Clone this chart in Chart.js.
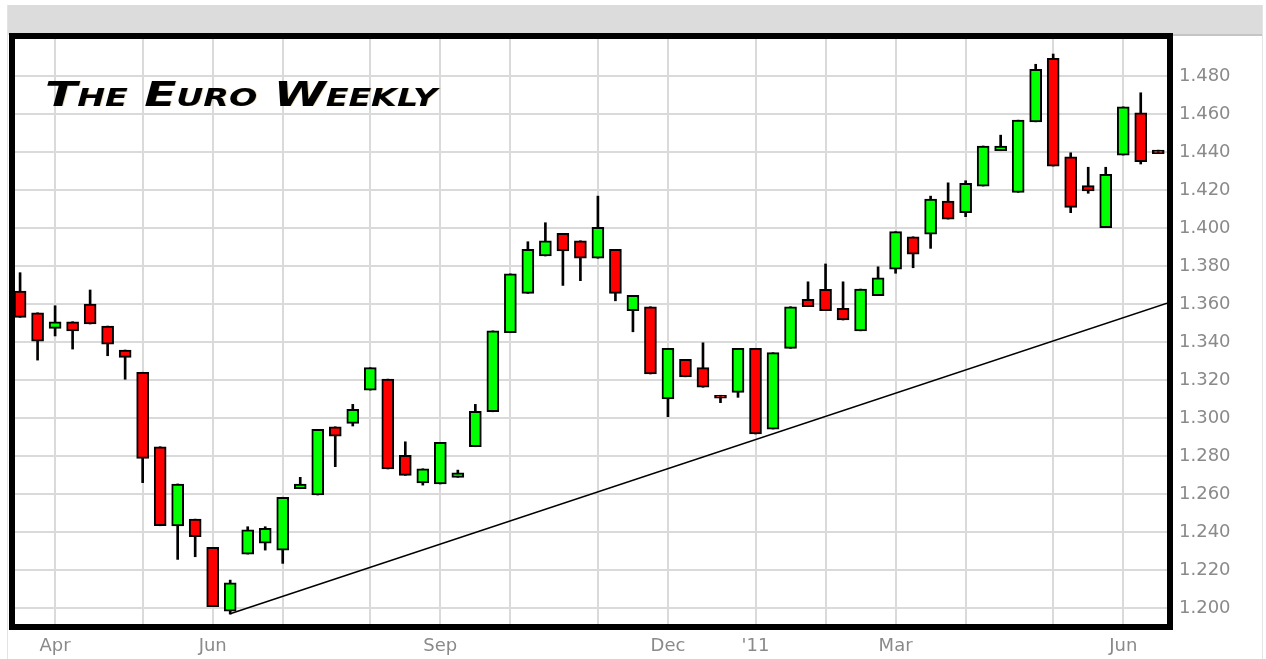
<!DOCTYPE html>
<html>
<head>
<meta charset="utf-8">
<script src="https://cdn.jsdelivr.net/npm/chart.js@4/dist/chart.umd.min.js"></script>
<style>
  html, body { margin: 0; padding: 0; background: #fff; }
  #wrap { width: 1266px; height: 659px; }
</style>
</head>
<body>
<div id="wrap"><canvas id="euroChart" width="1266" height="659"></canvas></div>
<script>
// weekly EUR/USD candles, week 0 = late March 2010
const opens = [1.3668, 1.3554, 1.3472, 1.3507, 1.3600, 1.3484, 1.3358, 1.3241, 1.2849, 1.2432,
    1.2468, 1.2319, 1.1984, 1.2284, 1.2341, 1.2305, 1.2628, 1.2595, 1.2954, 1.2972,
    1.3147, 1.3205, 1.2804, 1.2659, 1.2653, 1.2688, 1.2849, 1.3033, 1.3449, 1.3656,
    1.3853, 1.3972, 1.3933, 1.3841, 1.3888, 1.3565, 1.3586, 1.3100, 1.3309, 1.3265,
    1.3120, 1.3135, 1.3367, 1.2942, 1.3367, 1.3625, 1.3677, 1.3577, 1.3459, 1.3644,
    1.3783, 1.3954, 1.3968, 1.4142, 1.4081, 1.4221, 1.4407, 1.4188, 1.4559, 1.4893,
    1.4375, 1.4223, 1.4002, 1.4384, 1.4607, 1.4410];
const highs = [1.3765, 1.3554, 1.3591, 1.3507, 1.3674, 1.3484, 1.3358, 1.3241, 1.2849, 1.2653,
    1.2468, 1.2319, 1.2147, 1.2428, 1.2428, 1.2583, 1.2688, 1.2940, 1.2954, 1.3072,
    1.3265, 1.3205, 1.2875, 1.2733, 1.2872, 1.2726, 1.3072, 1.3459, 1.3759, 1.3928,
    1.4028, 1.3972, 1.3933, 1.4168, 1.3888, 1.3646, 1.3586, 1.3367, 1.3309, 1.3396,
    1.3120, 1.3367, 1.3367, 1.3344, 1.3586, 1.3717, 1.3811, 1.3717, 1.3679, 1.3796,
    1.3981, 1.3954, 1.4168, 1.4238, 1.4249, 1.4432, 1.4489, 1.4568, 1.4862, 1.4916,
    1.4396, 1.4320, 1.4320, 1.4638, 1.4712, 1.4410];
const lows = [1.3530, 1.3305, 1.3432, 1.3363, 1.3495, 1.3328, 1.3204, 1.2660, 1.2433, 1.2256,
    1.2270, 1.2007, 1.1968, 1.2284, 1.2305, 1.2235, 1.2628, 1.2595, 1.2744, 1.2958,
    1.3147, 1.2732, 1.2698, 1.2647, 1.2653, 1.2688, 1.2849, 1.3033, 1.3449, 1.3656,
    1.3853, 1.3698, 1.3723, 1.3841, 1.3617, 1.3454, 1.3232, 1.3007, 1.3217, 1.3162,
    1.3081, 1.3109, 1.2916, 1.2942, 1.3367, 1.3586, 1.3565, 1.3516, 1.3459, 1.3644,
    1.3762, 1.3791, 1.3893, 1.4047, 1.4060, 1.4221, 1.4407, 1.4188, 1.4559, 1.4326,
    1.4081, 1.4183, 1.4002, 1.4384, 1.4337, 1.4392];
const closes = [1.3530, 1.3405, 1.3507, 1.3459, 1.3495, 1.3389, 1.3319, 1.2788, 1.2433, 1.2653,
    1.2375, 1.2007, 1.2133, 1.2411, 1.2419, 1.2583, 1.2653, 1.2940, 1.2905, 1.3046,
    1.3265, 1.2732, 1.2698, 1.2733, 1.2872, 1.2711, 1.3035, 1.3459, 1.3759, 1.3888,
    1.3933, 1.3879, 1.3841, 1.4004, 1.3656, 1.3646, 1.3232, 1.3367, 1.3217, 1.3162,
    1.3104, 1.3367, 1.2916, 1.3344, 1.3586, 1.3586, 1.3565, 1.3516, 1.3679, 1.3738,
    1.3981, 1.3863, 1.4153, 1.4047, 1.4235, 1.4432, 1.4432, 1.4568, 1.4835, 1.4326,
    1.4109, 1.4196, 1.4283, 1.4638, 1.4349, 1.4392];

// first week of each month (week index) and its label
const monthWeeks = [2, 7, 11, 15, 20, 24, 28, 33, 37, 42, 46, 50, 54, 59, 63];
const monthLabels = ['Apr', '', 'Jun', '', '', 'Sep', '', '', 'Dec', "'11", '', 'Mar', '', '', 'Jun'];

const priceTicks = [1.20, 1.22, 1.24, 1.26, 1.28, 1.30, 1.32, 1.34, 1.36, 1.38, 1.40, 1.42, 1.44, 1.46, 1.48];

// support line drawn on the chart
const trendWeeks = [12, 65.5];
const trendValues = [1.1970, 1.3605];

const weeks = opens.map((o, i) => i);
const bodyColors = opens.map((o, i) => closes[i] < o ? '#ff0000' : '#00ff00');

const chromePlugin = {
    id: 'chrome',
    beforeDraw(chart) {
        const ctx = chart.ctx;
        ctx.save();
        ctx.fillStyle = '#ffffff';
        ctx.fillRect(0, 0, chart.width, chart.height);
        ctx.fillStyle = '#dcdcdc';
        ctx.fillRect(8, 5, 1254, 30);
        ctx.fillStyle = '#c4c4c4';
        ctx.fillRect(1170, 34, 92, 2);
        ctx.fillStyle = '#e4e4e4';
        ctx.fillRect(7, 5, 1, 654);
        ctx.fillRect(1262, 5, 1, 654);
        ctx.restore();
    },
    afterDraw(chart) {
        const ctx = chart.ctx;
        const a = chart.chartArea;
        ctx.save();
        ctx.strokeStyle = '#000';
        ctx.lineWidth = 6;
        ctx.strokeRect(a.left - 3, a.top - 3, a.right - a.left + 6, a.bottom - a.top + 6);

        // title
        ctx.font = 'italic small-caps bold 34px "DejaVu Sans", sans-serif';
        try { ctx.fontVariantCaps = 'small-caps'; } catch (e) {}
        ctx.textBaseline = 'alphabetic';
        const txt = 'The Euro Weekly';
        const w = ctx.measureText(txt).width;
        ctx.translate(45, 106);
        ctx.scale(392 / w, 1);
        ctx.fillStyle = '#000';
        ctx.shadowColor = 'rgba(200,140,40,0.35)';
        ctx.shadowOffsetX = 1;
        ctx.shadowOffsetY = 0;
        ctx.fillText(txt, 0, 0);
        ctx.restore();
    }
};

const ctx = document.getElementById('euroChart').getContext('2d');

new Chart(ctx, {
    type: 'bar',
    data: {
        datasets: [
            {
                type: 'line',
                label: 'trend',
                data: trendWeeks.map((x, i) => ({ x: x, y: trendValues[i] })),
                borderColor: '#000',
                borderWidth: 1.5,
                pointRadius: 0,
                fill: false,
                order: 0,
            },
            {
                label: 'body',
                data: weeks.map(i => ({ x: i, y: [opens[i], closes[i]] })),
                backgroundColor: bodyColors,
                borderColor: '#000',
                borderWidth: 2,
                borderSkipped: false,
                barThickness: 12,
                grouped: false,
                order: 1,
            },
            {
                label: 'wick',
                data: weeks.map(i => ({ x: i, y: [lows[i], highs[i]] })),
                backgroundColor: '#000',
                borderWidth: 0,
                barThickness: 2,
                grouped: false,
                order: 2,
            },
        ],
    },
    options: {
        responsive: false,
        animation: false,
        devicePixelRatio: 1,
        layout: {
            padding: { left: 15, top: 39, right: 0, bottom: 0 },
        },
        plugins: {
            legend: { display: false },
            tooltip: { enabled: false },
            title: { display: false },
        },
        scales: {
            x: {
                type: 'linear',
                min: -0.29,
                max: 65.5,
                offset: false,
                afterBuildTicks: (scale) => {
                    scale.ticks = monthWeeks.map(v => ({ value: v }));
                },
                afterFit: (scale) => { scale.height = 35; },
                ticks: {
                    autoSkip: false,
                    maxRotation: 0,
                    padding: 12,
                    color: '#8a8a8a',
                    font: { size: 18, family: "'DejaVu Sans', sans-serif" },
                    callback: (value) => {
                        const k = monthWeeks.indexOf(value);
                        return k >= 0 ? monthLabels[k] : '';
                    },
                },
                grid: {
                    offset: false,
                    color: '#dadada',
                    lineWidth: 2,
                    drawTicks: false,
                },
                border: { display: false },
            },
            y: {
                position: 'right',
                min: 1.1916,
                max: 1.4995,
                afterBuildTicks: (scale) => {
                    scale.ticks = priceTicks.map(v => ({ value: v }));
                },
                afterFit: (scale) => { scale.width = 99; },
                ticks: {
                    padding: 12,
                    color: '#8a8a8a',
                    font: { size: 18, family: "'DejaVu Sans', sans-serif" },
                    callback: (value) => value.toFixed(3),
                },
                grid: {
                    color: '#dadada',
                    lineWidth: 2,
                    drawTicks: false,
                },
                border: { display: false },
            },
        },
    },
    plugins: [chromePlugin],
});
</script>
</body>
</html>
